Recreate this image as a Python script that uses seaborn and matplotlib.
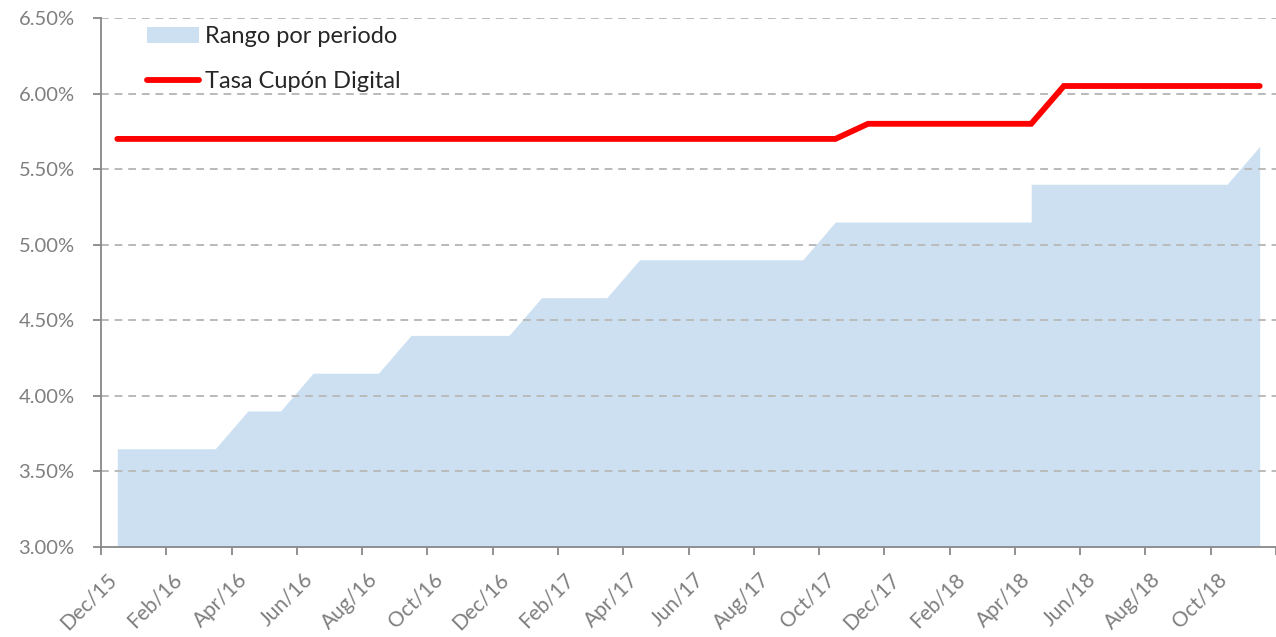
import numpy as np
import pandas as pd
import matplotlib.pyplot as plt
import matplotlib.transforms as mtransforms
import seaborn as sns
from matplotlib.patches import Patch
from matplotlib.lines import Line2D

# meses (Dec/15 .. Nov/18)
meses = pd.date_range("2015-12-01", "2018-11-01", freq="MS")
etiquetas = [m.strftime("%b/%y") for m in meses]

# Tasa Cupón Digital (%), un valor por mes
tasa_cupon = [5.70] * 23 + [5.80] * 6 + [6.05] * 7

# Rango por periodo: borde superior del área (índice de mes, %)
rango_idx = [0, 3, 4, 5, 6, 8, 9, 12, 13, 15, 16, 21, 22, 28, 28, 34, 35]
rango_sup = [3.65, 3.65, 3.90, 3.90, 4.15, 4.15, 4.40, 4.40, 4.65, 4.65,
             4.90, 4.90, 5.15, 5.15, 5.40, 5.40, 5.65]

sns.set_style("white")
plt.rcParams['font.family'] = ['Lato', 'DejaVu Sans']

df = pd.DataFrame({'idx': np.arange(len(meses)), 'tasa': tasa_cupon})

fig = plt.figure(figsize=(12.76, 6.37), dpi=100)
ax = fig.add_axes([101 / 1276, 90 / 637, 1175 / 1276, 529 / 637])

azul = '#cde0f1'
rojo = '#ff0000'
gris = '#7f7f7f'

ax.fill_between(rango_idx, 3.0, rango_sup, color=azul, linewidth=0, zorder=1)
for y in np.arange(3.5, 6.51, 0.5):
    ax.axhline(y, color='#bababa', linestyle=(0, (4, 3)), linewidth=1.4, zorder=2)
sns.lineplot(data=df, x='idx', y='tasa', color=rojo, linewidth=4.2, ax=ax,
             zorder=3, solid_capstyle='round', solid_joinstyle='miter')

ax.set_xlim(-0.5, len(meses) - 0.5)
ax.set_ylim(3.0, 6.5)
ax.set_yticks(np.arange(3.0, 6.51, 0.5))
ax.set_yticklabels([f"{v:.2f}%" for v in np.arange(3.0, 6.51, 0.5)])

ax.set_xticks(np.arange(-0.5, len(meses), 2))
ax.set_xticklabels([])
ax.set_xticks(np.arange(0, len(meses), 2), minor=True)
ax.set_xticklabels(etiquetas[::2], minor=True, rotation=45, ha='right',
                   va='center', rotation_mode='anchor')
ax.tick_params(axis='x', which='major', length=6, width=1.3, color='#888888',
               direction='out', bottom=True)
ax.tick_params(axis='x', which='minor', length=0, pad=21, labelsize=15,
               labelcolor=gris)
ax.tick_params(axis='y', length=6, width=1.3, color='#888888', direction='out',
               left=True, labelsize=14.5, labelcolor=gris, pad=13)
desplaza = mtransforms.ScaledTranslation(-4 / 100, 0, fig.dpi_scale_trans)
for lbl in ax.get_xticklabels(minor=True):
    lbl.set_transform(lbl.get_transform() + desplaza)

ax.set_xlabel('')
ax.set_ylabel('')
for s in ['top', 'right']:
    ax.spines[s].set_visible(False)
for s in ['left', 'bottom']:
    ax.spines[s].set_color('#888888')
    ax.spines[s].set_linewidth(1.3)

handles = [Patch(facecolor=azul, edgecolor='none'),
           Line2D([0], [0], color=rojo, linewidth=4.2, solid_capstyle='round')]
ax.legend(handles, ['Rango por periodo', 'Tasa Cupón Digital'],
          loc='upper left', bbox_to_anchor=(0.039, 0.984), frameon=False,
          fontsize=17, handlelength=2.2, handleheight=0.7, handletextpad=0.25,
          labelspacing=1.0, borderpad=0, borderaxespad=0)

plt.savefig('out.png', dpi=100)
